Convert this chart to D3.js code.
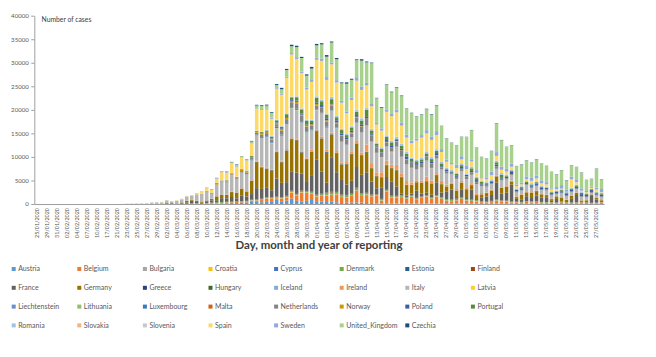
<!DOCTYPE html>
<html><head><meta charset="utf-8">
<script src="https://cdn.jsdelivr.net/npm/d3@7"></script>
<style>
body{margin:0;background:#fff}
svg{display:block}
text{font-family:Lato,"Liberation Sans",sans-serif}
</style>
</head><body>
<svg id="c" width="656" height="357"></svg>
<script>
const dates = [
"25/01/2020","27/01/2020","29/01/2020","30/01/2020","31/01/2020","01/02/2020","02/02/2020","03/02/2020","04/02/2020","05/02/2020",
"07/02/2020","08/02/2020","10/02/2020","12/02/2020","17/02/2020","20/02/2020","21/02/2020","22/02/2020","23/02/2020","24/02/2020",
"25/02/2020","26/02/2020","27/02/2020","28/02/2020","29/02/2020","01/03/2020",
"02/03/2020","03/03/2020","04/03/2020","05/03/2020","06/03/2020","07/03/2020","08/03/2020","09/03/2020","10/03/2020","11/03/2020",
"12/03/2020","13/03/2020","14/03/2020","15/03/2020","16/03/2020","17/03/2020","18/03/2020","19/03/2020","20/03/2020","21/03/2020",
"22/03/2020","23/03/2020","24/03/2020","25/03/2020","26/03/2020","27/03/2020","28/03/2020","29/03/2020","30/03/2020","31/03/2020",
"01/04/2020","02/04/2020","03/04/2020","04/04/2020","05/04/2020","06/04/2020","07/04/2020","08/04/2020","09/04/2020","10/04/2020",
"11/04/2020","12/04/2020","13/04/2020","14/04/2020","15/04/2020","16/04/2020","17/04/2020","18/04/2020","19/04/2020","20/04/2020",
"21/04/2020","22/04/2020","23/04/2020","24/04/2020","25/04/2020","26/04/2020","27/04/2020","28/04/2020","29/04/2020","30/04/2020",
"01/05/2020","02/05/2020","03/05/2020","04/05/2020","05/05/2020","06/05/2020","07/05/2020","08/05/2020","09/05/2020","10/05/2020",
"11/05/2020","12/05/2020","13/05/2020","14/05/2020","15/05/2020","16/05/2020","17/05/2020","18/05/2020","19/05/2020","20/05/2020",
"21/05/2020","22/05/2020","23/05/2020","24/05/2020","25/05/2020","26/05/2020","27/05/2020","28/05/2020"
];

const countries = ["Austria","Belgium","Bulgaria","Croatia","Cyprus","Denmark","Estonia","Finland",
"France","Germany","Greece","Hungary","Iceland","Ireland","Italy","Latvia",
"Liechtenstein","Lithuania","Luxembourg","Malta","Netherlands","Norway","Poland","Portugal",
"Romania","Slovakia","Slovenia","Spain","Sweden","United_Kingdom","Czechia"];

const colors = ["#5B9BD5","#ED7D31","#A5A5A5","#FFC000","#4472C4","#70AD47","#255E91","#9E480E",
"#636363","#997300","#264478","#43682B","#7CAFDD","#F1975A","#B7B7B7","#FFCD33",
"#698ED0","#8CC168","#327DC2","#D26012","#848484","#CC9A00","#3A5FA0","#5A8A39",
"#9DC3E6","#F4B183","#C9C9C9","#FFD966","#8FAADC","#A9D18E","#1F4E79"];

const yTicks = [0,5000,10000,15000,20000,25000,30000,35000,40000];

const Austria = [0,0,0,0,0,0,0,0,0,0,0,0,0,0,0,0,0,0,0,0,2,0,0,3,0,4,
0,8,6,13,10,22,25,10,56,65, 64,115,151,202,205,314,314,443,451,375, 599,605,896,598,694,1141,668,561,664,1050,
605,516,417,479,368,204,265,321,351,300, 204,246,112,106,139,138,84,132,71,49, 78,55,63,88,50,61,32,48,68,77,
57,40,40,29,40,37,43,55,34,47, 24,43,35,40,52,66,28,43,42,29, 40,33,34,45,17,24,30,31];
const Belgium = [0,0,0,0,0,0,0,0,0,1,0,0,0,0,0,0,0,0,0,0,0,0,0,0,0,1,
0,6,5,13,27,59,60,31,39,28, 47,85,160,133,197,172,185,243,309,462, 558,586,342,526,668,1298,1049,1850,1702,1063,
876,1189,1384,1422,1661,1260,1123,1380,2454,1580, 1684,1351,1629,530,2500,1200,1236,1329,1045,1487, 933,1240,1496,1032,1496,1032,647,553,701,1032,
660,599,455,361,287,361,639,466,428,277, 324,198,384,294,364,218,194,236,138,291, 199,187,212,274,192,165,153,299];
const Bulgaria = [0,0,0,0,0,0,0,0,0,0,0,0,0,0,0,0,0,0,0,0,0,0,0,0,0,0,
0,0,0,0,0,0,4,0,0,0, 3,16,2,12,0,16,29,51,36,16, 31,0,11,40,17,23,22,46,11,36,
43,39,46,28,29,28,43,25,33,17, 33,14,40,37,20,30,47,39,32,35, 40,31,23,47,42,57,53,38,45,21,
45,49,88,23,39,24,41,24,73,34, 37,38,36,53,27,30,58,47,26,17, 23,20,10,20,8,6,25,30];
const Croatia = [0,0,0,0,0,0,0,0,0,0,0,0,0,0,0,0,0,0,0,0,1,2,0,2,2,1,
0,2,2,1,2,0,1,2,2,4, 5,6,14,13,8,15,16,25,30,56, 48,52,73,71,55,91,71,55,77,77,
96,46,63,71,51,50,45,67,37,28, 73,31,21,68,48,35,39,32,17,17, 15,18,50,11,64,14,11,22,17,10,
17,5,11,5,14,6,14,6,8,9, 8,5,3,3,1,5,2,1,0,0, 2,4,1,0,0,3,4,1];
const Cyprus = [0,0,0,0,0,0,0,0,0,0,0,0,0,0,0,0,0,0,0,0,0,0,0,0,0,0,
0,0,0,0,0,0,0,2,0,4, 0,0,12,10,7,6,0,21,10,25, 11,20,10,11,22,32,18,17,10,18,
26,21,16,14,32,19,19,17,26,19, 23,25,5,20,9,10,20,11,15,12, 11,5,7,6,10,5,3,2,8,9,
6,8,0,5,7,9,2,2,1,1, 3,1,1,0,1,0,2,2,4,0, 0,3,2,0,1,1,0,0];
const Denmark = [0,0,0,0,0,0,0,0,0,0,0,0,0,0,0,0,0,0,0,0,0,0,0,1,0,1,
3,2,5,5,13,8,15,11,55,172, 248,161,88,70,68,34,37,78,51,84, 97,72,123,133,149,135,198,219,162,260,
219,244,329,370,390,292,312,331,390,233, 184,178,177,184,201,234,170,207,180,142, 130,176,130,155,129,238,148,171,209,162,
157,145,173,158,64,142,127,135,110,91, 60,119,87,120,60,79,83,63,72,79, 66,49,67,43,50,30,42,32];
const Estonia = [0,0,0,0,0,0,0,0,0,0,0,0,0,0,0,0,0,0,0,0,0,0,0,1,0,0,
0,0,1,1,1,0,0,1,2,8, 9,15,12,10,57,35,53,8,67,48, 23,20,24,39,46,34,30,32,76,45,
60,84,41,63,43,40,35,72,49,32, 45,26,7,39,28,22,13,42,35,15, 4,12,28,15,18,4,7,8,11,11,
14,9,12,14,4,11,4,4,6,5, 5,5,2,1,5,6,2,3,4,6, 4,4,5,2,6,1,5,2];
const Finland = [0,0,0,0,1,0,0,0,0,0,0,0,0,0,0,0,0,0,0,0,0,0,1,0,0,0,
1,2,3,4,6,8,8,10,15,20, 30,46,41,33,48,40,36,42,50,59, 60,70,81,75,88,80,98,106,78,70,
72,140,120,150,170,115,100,110,120,98, 140,140,100,110,90,150,130,80,60,80, 100,80,90,110,100,90,80,100,75,90,
110,80,70,50,60,80,90,60,70,40, 30,40,60,50,50,40,30,30,40,20, 50,40,30,60,20,30,50,40];
const France = [3,0,1,0,1,0,0,0,0,0,0,5,1,0,1,0,0,0,0,0,2,4,20,19,43,30,
150,130,60,150,290,600,500,215,420,480, 400,800,730,1000,600,1200,900,1200,2370,2085, 2000,1500,3838,3000,2900,4000,4500,3600,1900,3500,
7400,4600,2100,7200,4000,3100,2200,2600,4400,3900, 4350,2750,1250,2450,2700,2900,2000,400,350,400, 1500,600,500,500,2700,950,1700,2150,350,1600,
400,2100,200,670,1100,1250,3600,1450,1650,3600, 600,550,1050,900,1250,950,900,250,750,100, 0,750,1550,0,50,1450,650,0];
const Germany = [0,1,3,0,1,2,2,2,0,1,2,0,2,0,0,0,0,0,0,0,0,2,21,26,57,57,
28,39,66,138,284,163,55,237,157,271, 802,693,733,1043,1174,1400,1042,2800,5500,4500, 4000,4183,5600,4337,6615,6933,6824,4400,4790,4923,
6064,6922,6365,4933,4031,3251,4289,5633,4885,3990, 4133,2821,2537,2082,2486,2866,3380,3400,2200,1775, 1785,2237,2352,2337,1514,1737,1018,1144,1304,1478,
1639,945,793,679,685,947,1284,1209,1251,667, 357,933,798,933,913,620,583,342,513,797, 460,638,431,289,432,289,362,353];
const Greece = [0,0,0,0,0,0,0,0,0,0,0,0,0,0,0,0,0,0,0,0,0,0,1,2,0,4,
0,2,2,1,2,0,3,7,12,21, 9,33,16,11,41,21,31,46,31,80, 73,71,48,58,78,71,95,94,64,48,
102,74,129,60,30,35,62,60,29,20, 19,7,37,17,26,36,31,31,37,0, 1,20,0,0,1,2,1,17,21,10,
15,16,9,17,5,5,11,10,22,2, 5,15,9,7,18,26,3,7,6,10, 3,19,21,5,8,4,5,4];
const Hungary = [0,0,0,0,0,0,0,0,0,0,0,0,0,0,0,0,0,0,0,0,0,0,0,0,0,0,
0,0,0,2,1,0,4,1,3,4, 3,6,11,2,7,11,11,8,23,34, 18,36,20,35,40,41,28,41,20,34,
45,60,38,33,55,59,73,70,85,155, 210,65,58,81,99,75,80,74,43,65, 48,65,116,80,73,45,40,40,40,40,
40,30,60,41,38,36,42,47,34,38, 32,26,22,33,41,35,19,31,30,32, 14,18,20,16,14,20,18,15];
const Iceland = [0,0,0,0,0,0,0,0,0,0,0,0,0,0,0,0,0,0,0,0,0,0,0,0,1,2,
0,0,5,6,17,4,3,10,6,38, 16,24,15,46,18,62,20,34,77,44, 64,20,30,91,63,66,68,84,71,75,
61,48,37,36,13,30,34,25,36,65, 18,9,2,25,14,7,12,20,9,14, 3,4,5,11,5,3,0,7,2,6,
1,1,0,1,0,2,2,1,0,0, 0,1,0,0,1,0,0,0,0,0, 0,2,1,0,0,0,0,0];
const Ireland = [0,0,0,0,0,0,0,0,0,0,0,0,0,0,0,0,0,0,0,0,0,0,0,0,0,1,
0,0,0,0,13,0,2,0,2,10, 27,27,20,39,40,74,69,74,191,126, 102,121,219,204,235,255,302,200,295,325,
212,402,424,331,390,370,330,365,500,480, 1515,832,727,992,832,657,1068,724,777,493, 400,388,936,577,377,701,376,201,344,376,
221,197,360,287,96,153,106,103,143,155, 147,104,85,96,46,71,61,64,31,47, 48,53,59,46,73,37,59,25];
const Italy = [0,0,0,0,2,0,0,0,0,0,0,0,0,0,0,0,3,17,59,76,95,93,78,250,238,240,
561,347,466,587,769,778,1247,1492,1797,977, 2313,2651,2547,3497,2823,3233,3526,4207,5322,5986, 6557,5560,4789,5249,5210,6153,5959,5974,5217,4050,
4053,4782,4668,4585,4805,4316,3599,3039,3836,4204, 3951,4694,4092,3153,2972,2667,3786,3493,3491,3047, 2256,2729,3370,2646,3021,2357,2324,1739,2091,2086,
1872,1965,1900,1389,1221,1075,1444,1401,1327,1083, 802,744,1402,888,992,789,875,675,451,813, 665,642,652,669,531,300,397,584];
const Latvia = [0,0,0,0,0,0,0,0,0,0,0,0,0,0,0,0,0,0,0,0,0,0,0,0,0,0,
0,1,0,0,0,0,0,0,0,0, 6,0,0,16,0,8,20,0,38,12, 28,21,18,25,24,6,25,15,19,21,
21,47,21,13,13,15,12,10,13,12, 11,13,2,11,11,17,8,5,7,7, 13,21,3,15,2,7,9,3,10,6,
3,13,10,6,4,7,6,8,7,8, 0,4,4,0,6,1,2,3,2,5, 4,2,2,3,1,0,1,2];
const Liechtenstein = [0,0,0,0,0,0,0,0,0,0,0,0,0,0,0,0,0,0,0,0,0,0,0,0,0,0,
0,0,0,0,0,0,0,0,0,1, 0,0,3,0,0,3,0,0,3,3, 7,3,4,9,4,5,0,0,7,4,
4,3,5,1,2,0,1,0,1,0, 1,0,0,0,0,0,0,0,2,1, 1,0,0,0,0,0,0,0,0,0,
0,0,0,0,0,0,0,0,0,0, 0,0,0,0,0,0,0,0,0,0, 0,0,0,0,0,0,0,0];
const Lithuania = [0,0,0,0,0,0,0,0,0,0,0,0,0,0,0,0,0,0,0,0,0,0,0,0,1,0,
0,0,0,0,0,0,1,0,0,2, 3,3,1,1,3,4,8,5,17,8, 11,28,32,21,28,76,47,41,71,45,
23,27,29,37,34,24,20,24,38,44, 46,21,31,27,8,44,39,0,22,37, 18,30,51,23,29,15,17,11,25,6,
13,2,6,15,21,36,13,15,12,22, 7,8,3,3,6,15,6,16,0,9, 7,5,12,22,12,9,0,5];
const Luxembourg = [0,0,0,0,0,0,0,0,0,0,0,0,0,0,0,0,0,0,0,0,0,0,0,0,0,1,
0,0,0,0,0,1,2,0,2,3, 19,12,12,26,4,59,63,132,135,186, 128,128,234,224,224,149,211,235,116,133,
103,125,166,85,112,82,84,57,104,48, 58,70,45,11,45,56,46,28,26,10, 3,41,8,17,23,5,5,14,11,8,
7,9,12,5,10,12,9,20,17,7, 14,5,10,8,16,4,9,6,3,9, 6,13,2,4,7,4,4,5];
const Malta = [0,0,0,0,0,0,0,0,0,0,0,0,0,0,0,0,0,0,0,0,0,0,0,0,0,0,
0,0,0,0,0,0,0,1,2,3, 1,6,5,6,3,8,8,5,9,19, 13,17,17,19,13,5,11,7,4,10,
22,14,10,14,11,4,14,5,13,8, 20,13,14,3,6,8,13,3,4,14, 5,17,4,2,5,3,1,3,2,0,
1,0,2,0,3,2,4,4,9,8, 3,8,0,0,0,1,3,1,1,1, 2,2,4,7,1,1,3,1];
const Netherlands = [0,0,0,0,0,0,0,0,0,0,0,0,0,0,0,0,0,0,0,0,0,0,0,1,1,5,
8,6,14,15,44,46,60,77,56,61, 121,111,190,155,176,278,292,346,409,534, 637,573,545,811,852,1019,1172,1159,1104,884,
845,1019,1083,1026,904,1224,952,777,969,1213, 1335,1316,1174,964,868,734,1061,1235,1066,1066, 750,729,797,887,655,400,400,171,400,386,
514,475,445,335,199,232,455,319,261,239, 196,154,196,218,188,199,235,167,99,155, 207,188,175,166,130,179,161,184];
const Norway = [0,0,0,0,0,0,0,0,0,0,0,0,0,0,0,0,0,0,0,0,0,0,0,1,5,9,
10,6,30,32,46,14,29,25,120,181, 325,106,215,113,143,234,245,180,164,182, 206,197,218,357,251,308,312,237,192,269,
316,227,282,223,164,120,132,214,152,100, 104,89,121,53,103,113,133,94,81,40, 53,91,85,87,49,56,49,45,45,80,
60,42,60,25,18,40,45,40,30,20, 15,18,25,20,18,12,10,15,8,10, 12,14,18,10,8,12,10,9];
const Poland = [0,0,0,0,0,0,0,0,0,0,0,0,0,0,0,0,0,0,0,0,0,0,0,0,0,0,
0,0,0,0,1,0,0,10,5,9, 14,19,21,43,35,47,43,73,70,111, 89,115,152,150,170,195,249,224,193,256,
243,392,437,244,475,311,435,357,370,380, 336,318,268,260,380,336,263,336,545,263, 313,380,263,290,460,242,306,255,326,381,
342,291,373,283,264,307,353,297,327,595, 307,330,234,297,310,274,280,317,325,263, 404,315,351,416,395,400,279,354];
const Portugal = [0,0,0,0,0,0,0,0,0,0,0,0,0,0,0,0,0,0,0,0,0,0,0,0,0,0,
0,2,2,4,5,8,9,9,11,18, 19,34,57,43,86,117,83,194,143,235, 260,320,460,302,633,549,724,902,792,446,
1035,808,783,852,638,754,452,712,699,815, 1516,598,349,514,643,750,181,663,521,516, 629,516,371,603,444,595,163,183,295,382,
0,553,420,326,242,178,533,553,138,164, 98,234,219,187,264,227,98,173,150,252, 219,288,304,257,231,165,195,285];
const Romania = [0,0,0,0,0,0,0,0,0,0,0,0,0,0,0,0,0,0,0,0,0,0,1,2,0,0,
0,0,0,0,0,0,0,2,10,4, 18,19,37,31,44,26,61,29,41,20, 66,143,101,152,150,143,160,184,217,223,
308,296,193,445,358,245,299,241,360,435, 352,277,242,302,298,343,380,435,396,290, 319,362,429,406,360,413,268,277,243,395,
313,361,328,221,217,282,359,344,321,214, 234,190,206,257,184,226,193,190,145,180, 162,159,163,182,101,100,130,150];
const Slovakia = [0,0,0,0,0,0,0,0,0,0,0,0,0,0,0,0,0,0,0,0,0,0,0,0,0,0,
0,0,0,1,0,2,2,2,0,0, 5,0,10,11,17,25,25,9,16,40, 13,15,19,40,12,22,43,19,23,29,
43,37,27,21,20,50,20,36,19,18, 11,35,19,27,35,14,42,12,51,0, 46,24,10,52,24,12,9,6,12,16,
10,7,12,1,7,1,1,6,0,6, 0,2,1,2,4,2,1,1,0,1, 5,1,3,3,0,0,6,1];
const Slovenia = [0,0,0,0,0,0,0,0,0,0,0,0,0,0,0,0,0,0,0,0,0,0,0,0,0,0,
0,0,0,1,2,4,6,3,7,10, 31,57,45,38,34,16,39,44,30,51, 69,40,47,30,64,34,37,45,53,54,
36,34,44,29,22,21,28,48,36,45, 28,33,37,24,26,8,14,23,20,26, 14,24,15,9,15,3,7,9,3,7,
10,4,0,7,7,2,4,3,0,1, 0,0,2,5,3,0,2,0,3,1, 3,0,0,0,1,1,2,0];
const Spain = [0,0,0,0,1,0,0,0,0,1,0,0,0,0,0,0,0,0,0,0,4,7,10,15,17,39,
45,36,60,60,100,100,124,430,600,600, 800,1700,1500,2000,2000,2400,2000,2500,4600,4600, 4300,3600,6500,6600,7500,8900,7900,7500,6400,8000,
7700,8200,7100,6900,7000,5500,4300,5500,6200,6000, 4800,4800,3800,3500,5000,5200,5200,3800,3000,3000, 4000,4200,3800,3600,3000,2000,1300,1200,1000,800,
900,1100,800,500,600,900,1000,700,600,600, 500,400,400,500,600,500,500,400,300,150, 0,1800,500,300,200,200,500,100];
const Sweden = [0,0,0,0,1,0,0,0,0,0,0,0,0,0,0,0,0,0,0,0,0,0,1,6,0,1,
2,2,15,30,37,24,66,46,84,98, 141,99,160,66,149,45,57,75,63,180, 142,212,152,216,237,295,382,276,390,388,
462,497,612,399,485,387,376,487,726,722, 544,466,332,465,497,482,613,676,606,563, 392,545,682,751,812,610,463,286,695,681,
790,428,562,235,401,705,790,642,674,631, 328,349,602,625,637,625,459,235,468,741, 400,549,615,488,282,274,394,670];
const United_Kingdom = [0,0,0,0,2,0,0,0,0,0,1,0,4,1,0,0,0,0,0,0,0,0,0,3,5,12,
13,4,11,34,30,48,43,67,48,52, 83,134,117,208,342,251,152,407,676,643, 714,1035,665,967,1427,1452,2129,2885,2546,2433,
2619,3009,4324,4244,4450,3735,5903,3802,3634,5491, 4344,8681,5233,4342,5252,4603,4617,5599,5525,5850, 4676,4301,4451,4583,5386,4913,4463,4309,3996,4076,
6032,6201,4806,4339,3985,4406,6111,5614,4649,3896, 3923,3877,3403,3242,3446,3560,3451,3534,2684,3142, 2000,2412,2615,3287,2405,1625,4043,2004];
const Czechia = [0,0,0,0,0,0,0,0,0,0,0,0,0,0,0,0,0,0,0,0,0,0,0,0,0,0,
0,0,3,2,7,7,12,8,9,31, 23,22,43,70,95,35,90,120,139,171, 179,161,204,285,224,319,287,249,276,356,
290,256,342,212,254,183,285,224,161,309, 183,122,91,156,95,131,118,122,75,71, 83,91,100,115,108,51,64,47,80,56,
37,57,42,26,56,49,68,71,25,58, 35,60,52,55,59,48,46,39,53,48, 68,52,34,69,15,42,44,70];

const seriesValues = {Austria,Belgium,Bulgaria,Croatia,Cyprus,Denmark,Estonia,Finland,France,Germany,Greece,Hungary,
Iceland,Ireland,Italy,Latvia,Liechtenstein,Lithuania,Luxembourg,Malta,Netherlands,Norway,Poland,Portugal,
Romania,Slovakia,Slovenia,Spain,Sweden,United_Kingdom,Czechia};

const bad = countries.filter(c => seriesValues[c].length !== dates.length);
if (bad.length) throw new Error("length mismatch: " + bad.map(c => c + "=" + seriesValues[c].length).join(", ") + " dates=" + dates.length);

const svg = d3.select("#c");
svg.append("rect").attr("width",656).attr("height",357).attr("fill","#fff");

const x = d3.scaleBand().domain(dates).range([34.3, 604]).paddingInner(0.3).paddingOuter(0.15);
const y = d3.scaleLinear().domain([0, 40000]).range([204, 15.7]);

const table = dates.map((d, i) => {
  const o = {date: d};
  countries.forEach(c => { o[c] = seriesValues[c][i]; });
  return o;
});
const stacked = d3.stack().keys(countries)(table);

svg.append("g").selectAll("g").data(stacked).join("g")
  .attr("fill", (d, i) => colors[i])
  .selectAll("rect").data(d => d).join("rect")
  .attr("x", d => x(d.data.date))
  .attr("width", x.bandwidth())
  .attr("y", d => y(d[1]))
  .attr("height", d => Math.max(0, y(d[0]) - y(d[1])));

// Y axis
const gy = svg.append("g").attr("transform", "translate(34.3,0)")
  .call(d3.axisLeft(y).tickValues(yTicks).tickSize(3).tickSizeOuter(0).tickPadding(2.5).tickFormat(d3.format("d")));
gy.select(".domain").attr("stroke", "#868686").attr("stroke-width", 0.8);
gy.selectAll(".tick line").attr("stroke", "#868686").attr("stroke-width", 0.8);
gy.selectAll("text").attr("fill", "#595959").style("font-size", "6.1px");

// X axis
const gx = svg.append("g").attr("transform", "translate(0,204)")
  .call(d3.axisBottom(x).tickValues(dates.filter((d, i) => i % 2 === 0)).tickSize(0).tickSizeOuter(0));
gx.select(".domain").attr("stroke", "#868686").attr("stroke-width", 0.8);
gx.selectAll("text")
  .attr("transform", "rotate(-90)")
  .attr("text-anchor", "end")
  .attr("x", -4).attr("y", 0).attr("dy", "0.35em")
  .attr("fill", "#595959").style("font-size", "5.4px");

// Titles
svg.append("text").attr("x", 41.5).attr("y", 21.5).attr("fill", "#404040")
  .style("font-size", "6.8px").text("Number of cases");
svg.append("text").attr("x", 319).attr("y", 248.5).attr("text-anchor", "middle")
  .attr("fill", "#404040").style("font-size", "11.4px").style("font-weight", "bold")
  .text("Day, month and year of reporting");

// Legend
const lg = svg.append("g");
countries.forEach((c, i) => {
  const col = i % 8, row = Math.floor(i / 8);
  const lx = 11.7 + col * 65.6, ly = 269 + row * 18.8;
  lg.append("rect").attr("x", lx).attr("y", ly - 2).attr("width", 4).attr("height", 4).attr("fill", colors[i]);
  lg.append("text").attr("x", lx + 6.5).attr("y", ly).attr("dy", "0.35em")
    .attr("fill", "#595959").style("font-size", "7px").text(c);
});
</script>
</body></html>
